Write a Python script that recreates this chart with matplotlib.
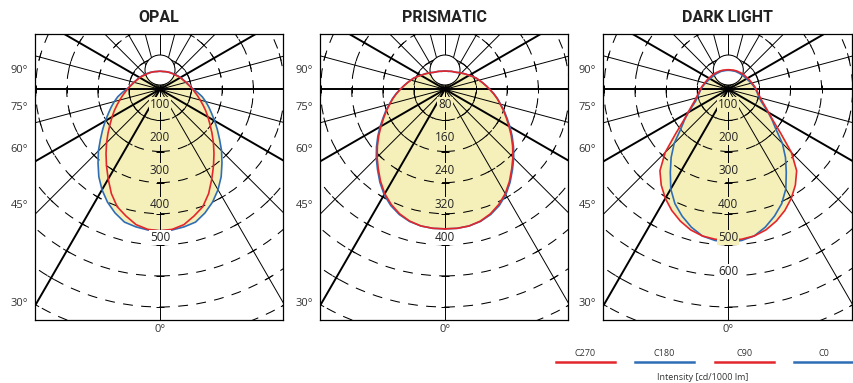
import numpy as np
import matplotlib.pyplot as plt
from matplotlib.patches import Circle
from matplotlib.lines import Line2D
from matplotlib.collections import LineCollection

plt.rcParams['font.family'] = ['Open Sans', 'DejaVu Sans']

RED = '#e3262b'
BLUE = '#2f6db5'
FILL = '#f5f0b9'

titles = ['OPAL', 'PRISMATIC', 'DARK LIGHT']
ring_steps = [100, 80, 100]
ring_labels = [[100, 200, 300, 400, 500],
               [80, 160, 240, 320, 400],
               [100, 200, 300, 400, 500, 600]]
angle_labels = ['90°', '75°', '60°', '45°', '30°']

# gamma angles (deg from nadir), 0..180 every 5 deg
angles = list(range(0, 181, 5))

# OPAL  (cd/1000 lm)
opal_c0 = [455, 454, 449, 442, 423, 400, 373, 343, 310, 280, 250, 225, 203, 183, 167, 152, 138, 122, 108,
           98, 91, 86, 82, 79, 76, 73, 70, 68, 66, 64, 63, 61, 60, 59, 58, 58, 58]
opal_c180 = [455, 454, 449, 442, 423, 400, 373, 343, 310, 280, 250, 225, 203, 183, 167, 152, 138, 122, 108,
             98, 91, 86, 82, 79, 76, 73, 70, 68, 66, 64, 63, 61, 60, 59, 58, 58, 58]
opal_c90 = [455, 452, 442, 422, 402, 370, 333, 300, 270, 243, 218, 196, 178, 162, 147, 134, 123, 113, 105,
            98, 92, 87, 82, 78, 75, 72, 69, 67, 65, 63, 62, 61, 60, 59, 58, 58, 58]
opal_c270 = [455, 452, 442, 422, 402, 370, 333, 300, 270, 243, 218, 196, 178, 162, 147, 134, 123, 113, 105,
             98, 92, 87, 82, 78, 75, 72, 69, 67, 65, 63, 62, 61, 60, 59, 58, 58, 58]

# PRISMATIC
prism_c0 = [359, 359, 357, 352, 343, 330, 313, 292, 270, 250, 230, 211, 193, 176, 162, 148, 137, 126, 115,
            106, 98, 91, 85, 78, 72, 67, 63, 59, 56, 53, 51, 50, 49, 48, 47, 47, 47]
prism_c180 = [359, 359, 357, 352, 343, 330, 313, 292, 270, 250, 230, 211, 193, 176, 162, 148, 137, 126, 115,
              106, 98, 91, 85, 78, 72, 67, 63, 59, 56, 53, 51, 50, 49, 48, 47, 47, 47]
prism_c90 = [359, 359, 357, 351, 341, 327, 310, 289, 267, 247, 227, 208, 190, 174, 160, 147, 136, 125, 115,
             106, 98, 91, 85, 78, 72, 67, 63, 59, 56, 53, 51, 50, 49, 48, 47, 47, 47]
prism_c270 = [359, 359, 357, 351, 341, 327, 310, 289, 267, 247, 227, 208, 190, 174, 160, 147, 136, 125, 115,
              106, 98, 91, 85, 78, 72, 67, 63, 59, 56, 53, 51, 50, 49, 48, 47, 47, 47]

# DARK LIGHT
dark_c0 = [491, 488, 479, 459, 434, 406, 370, 325, 286, 246, 200, 172, 148, 127, 112, 103, 97, 92, 88,
           84, 80, 76, 73, 70, 68, 66, 65, 64, 63, 63, 62, 62, 62, 61, 61, 61, 61]
dark_c180 = [491, 488, 479, 459, 434, 406, 370, 325, 286, 246, 200, 172, 148, 127, 112, 103, 97, 92, 88,
             84, 80, 76, 73, 70, 68, 66, 65, 64, 63, 63, 62, 62, 62, 61, 61, 61, 61]
dark_c90 = [485, 484, 479, 468, 451, 430, 405, 376, 342, 287, 220, 176, 150, 131, 117, 107, 100, 94, 90,
            86, 82, 79, 76, 74, 72, 70, 69, 68, 67, 66, 65, 65, 64, 64, 63, 63, 63]
dark_c270 = [485, 484, 479, 468, 451, 430, 405, 376, 342, 287, 220, 176, 150, 131, 117, 107, 100, 94, 90,
             86, 82, 79, 76, 74, 72, 70, 69, 68, 67, 66, 65, 65, 64, 64, 63, 63, 63]

panels = [
    (opal_c0, opal_c180, opal_c90, opal_c270),
    (prism_c0, prism_c180, prism_c90, prism_c270),
    (dark_c0, dark_c180, dark_c90, dark_c270),
]

# layout in pixels
W, H = 854, 383
box_lefts = [35, 320, 603.3]
box_top, box_w, box_h = 34, 248.3, 286
cx, cy = 125, 55.3        # origin inside the box
PX = 31.1                 # pixels per ring step
angle_label_y = [0.6, -0.57, -1.95, -3.75, -6.89]   # in ring steps

# grid spokes (deg, measured from nadir, clockwise to the right)
spoke_angles = [0, 30, 45, 60, 75, 90, 105, 120, 135, 150, 165, 180,
                195, 210, 225, 240, 255, 270, 285, 300, 315, 330]
thick_spokes = [60, 90, 120, 240, 270, 300, 330]

fig = plt.figure(figsize=(W / 100, H / 100), dpi=100)
th = np.radians(angles)

for i in range(3):
    step = ring_steps[i]
    c0, c180, c90, c270 = map(np.array, panels[i])

    ax = fig.add_axes([box_lefts[i] / W, (H - box_top - box_h) / H, box_w / W, box_h / H])
    ax.set_xlim(-cx / PX * step, (box_w - cx) / PX * step)
    ax.set_ylim(-(box_h - cy) / PX * step, cy / PX * step)
    ax.set_xticks([])
    ax.set_yticks([])
    for s in ax.spines.values():
        s.set_linewidth(0.9)

    # filled area = union of both planes
    right = np.maximum(c0, c90)
    left = np.maximum(c180, c270)
    fx = np.concatenate([right * np.sin(th), -left[::-1] * np.sin(th[::-1])])
    fy = np.concatenate([-right * np.cos(th), -left[::-1] * np.cos(th[::-1])])
    ax.fill(fx, fy, color=FILL, lw=0, zorder=1)

    # dashed rings
    for k in range(1, 10):
        ax.add_patch(Circle((0, 0), k * step, fill=False, ec='black', lw=0.75,
                            ls=(0, (9.5, 8)), zorder=2))

    # spokes and ticks
    L = 20 * step
    thin, thick, ticks = [], [], []
    h = 0.13 * step
    for a in spoke_angles:
        r = np.radians(a)
        d = (np.sin(r), -np.cos(r))
        seg = [(0, 0), (L * d[0], L * d[1])]
        if a in thick_spokes:
            thick.append(seg)
        else:
            thin.append(seg)
        t = (np.cos(r), np.sin(r))
        for k in range(1, 10):
            px, py = k * step * d[0], k * step * d[1]
            ticks.append([(px - h * t[0], py - h * t[1]), (px + h * t[0], py + h * t[1])])
    ax.add_collection(LineCollection(thin, colors='black', linewidths=0.7, zorder=2))
    ax.add_collection(LineCollection(thick, colors='black', linewidths=1.4, zorder=2))
    ax.add_collection(LineCollection(ticks, colors='black', linewidths=0.7, zorder=2))

    # luminaire symbol
    ax.add_patch(Circle((0, 19.3 / PX * step), 15 / PX * step, fc='white', ec='black',
                        lw=0.75, zorder=3))

    # curves
    bx = np.concatenate([c0 * np.sin(th), -c180[::-1] * np.sin(th[::-1])])
    by = np.concatenate([-c0 * np.cos(th), -c180[::-1] * np.cos(th[::-1])])
    ax.plot(bx, by, color=BLUE, lw=1.2, zorder=4)
    rx = np.concatenate([c90 * np.sin(th), -c270[::-1] * np.sin(th[::-1])])
    ry = np.concatenate([-c90 * np.cos(th), -c270[::-1] * np.cos(th[::-1])])
    ax.plot(rx, ry, color=RED, lw=1.2, zorder=4)

    # ring labels
    bottom = min(c0[0], c90[0])
    for j, v in enumerate(ring_labels[i]):
        rr = (1.075 * (j + 1) - 0.6) * step
        bg = FILL if rr < bottom else 'white'
        ax.text(0, -rr, str(v), ha='center', va='center', fontsize=8.5, color='#222222',
                bbox=dict(boxstyle='square,pad=0.08', fc=bg, ec='none'), zorder=5)

    # angle labels
    for lab, yy in zip(angle_labels, angle_label_y):
        ax.text(-7 / box_w, yy * step, lab, transform=ax.get_yaxis_transform(),
                ha='right', va='center', fontsize=8, color='#333333', clip_on=False)
    ax.text(0, -10 / box_h, '0°', transform=ax.get_xaxis_transform(),
            ha='center', va='center', fontsize=8, color='#333333', clip_on=False)

    fig.text((box_lefts[i] + box_w / 2) / W, (H - 18) / H, titles[i], ha='center', va='center',
             fontsize=11.5, fontweight='bold', family=['Roboto', 'DejaVu Sans'], color='#222222')

# legend
leg_names = ['C270', 'C180', 'C90', 'C0']
leg_colors = [RED, BLUE, RED, BLUE]
leg_x = [556, 635, 715, 794]
for name, col, x0 in zip(leg_names, leg_colors, leg_x):
    fig.add_artist(Line2D([x0 / W, (x0 + 59) / W], [(H - 361.7) / H] * 2,
                          transform=fig.transFigure, color=col, lw=1.8))
    fig.text((x0 + 29.5) / W, (H - 354) / H, name, ha='center', va='center',
             fontsize=6.5, color='#333333')
fig.text(703 / W, (H - 377) / H, 'Intensity [cd/1000 lm]', ha='center', va='center',
         fontsize=6.5, color='#333333')

fig.savefig('out.png', dpi=100)
